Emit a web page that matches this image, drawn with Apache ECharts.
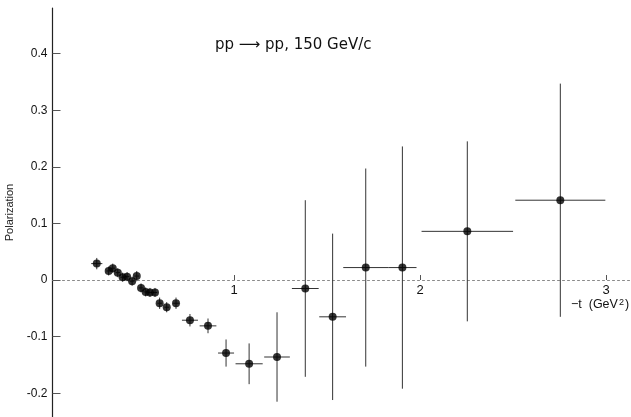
<!DOCTYPE html>
<html>
<head>
<meta charset="utf-8">
<script src="https://cdn.jsdelivr.net/npm/echarts@6/dist/echarts.min.js"></script>
<style>
  html, body { margin: 0; padding: 0; background: #fff; }
  #chart { width: 631px; height: 417px; }
</style>
</head>
<body>
<div id="chart"></div>
<script>
// pp -> pp elastic scattering at 150 GeV/c: polarization vs -t
const minusT = [0.262, 0.326, 0.348, 0.375, 0.401, 0.425, 0.452, 0.477, 0.500, 0.525,
                0.548, 0.575, 0.600, 0.638, 0.688, 0.763, 0.860, 0.957, 1.081, 1.231,
                1.383, 1.530, 1.708, 1.905, 2.254, 2.754];
const polarization = [0.029, 0.016, 0.021, 0.013, 0.005, 0.006, -0.002, 0.007, -0.014, -0.021,
                      -0.022, -0.022, -0.041, -0.048, -0.041, -0.071, -0.081, -0.129, -0.148, -0.136,
                      -0.015, -0.065, 0.022, 0.022, 0.086, 0.141];
const polErr = [0.010, 0.008, 0.008, 0.008, 0.008, 0.008, 0.008, 0.009, 0.008, 0.008,
                0.008, 0.008, 0.010, 0.009, 0.010, 0.011, 0.013, 0.024, 0.036, 0.079,
                0.156, 0.147, 0.175, 0.214, 0.159, 0.206];
const tErr = [0.030, 0.012, 0.012, 0.012, 0.012, 0.012, 0.012, 0.012, 0.012, 0.012,
              0.012, 0.012, 0.012, 0.012, 0.015, 0.043, 0.045, 0.043, 0.073, 0.069,
              0.072, 0.072, 0.121, 0.076, 0.246, 0.242];

const yTicks = [-0.2, -0.1, 0, 0.1, 0.2, 0.3, 0.4];
const xTicks = [1, 2, 3];

const Y_MIN = -0.242, Y_MAX = 0.4806;
const GRID = { left: 52.5, right: 0, top: 8, bottom: 0 };
const CHART_H = 417;

const points = minusT.map((t, i) => [t, polarization[i]]);
const bars = minusT.map((t, i) => [t, polarization[i], tErr[i], polErr[i]]);

// the t axis sits on P = 0; shift it up from the grid bottom by that distance
const plotH = CHART_H - GRID.top - GRID.bottom;
const zeroShift = plotH * (0 - Y_MIN) / (Y_MAX - Y_MIN);

const chart = echarts.init(document.getElementById('chart'), null, { renderer: 'canvas' });

chart.setOption({
  animation: false,
  backgroundColor: '#fff',
  grid: Object.assign({ containLabel: false, outerBoundsMode: 'none' }, GRID),
  xAxis: {
    type: 'value',
    min: 0.024,
    max: 3.134,
    position: 'bottom',
    offset: -zeroShift,
    axisLine: { onZero: false, lineStyle: { color: '#8a8a8a', type: [2, 3], width: 1 } },
    axisTick: { inside: true, length: 5, customValues: xTicks, lineStyle: { color: '#555' } },
    axisLabel: {
      customValues: xTicks, margin: 4, color: '#111',
      fontFamily: 'Liberation Sans', fontSize: 13
    },
    splitLine: { show: false }
  },
  yAxis: {
    type: 'value',
    min: Y_MIN,
    max: Y_MAX,
    name: 'Polarization',
    nameLocation: 'middle',
    nameRotate: 90,
    nameGap: 34,
    nameTextStyle: { fontFamily: 'Liberation Sans', fontSize: 11, color: '#222' },
    axisLine: { show: true, lineStyle: { color: '#222', width: 1.2 } },
    axisTick: { inside: true, length: 8, customValues: yTicks, lineStyle: { color: '#555' } },
    axisLabel: {
      customValues: yTicks, margin: 5, color: '#111',
      fontFamily: 'Liberation Sans', fontSize: 12,
      formatter: v => (Math.abs(v) < 1e-9 ? '0' : v.toFixed(1))
    },
    splitLine: { show: false }
  },
  graphic: [
    {
      type: 'text', left: 215, top: 38,
      style: { text: 'pp \u27F6 pp, 150 GeV/c', font: '15px "DejaVu Sans"', fill: '#111' }
    },
    {
      type: 'text', left: 571, top: 298,
      style: {
        text: '\u2212t  (GeV{sup|2})',
        font: '12.5px "Liberation Sans"', fill: '#111',
        rich: { sup: { fontSize: 9, fontFamily: 'Liberation Sans', verticalAlign: 'top', padding: [0, 1, 5, 1] } }
      }
    }
  ],
  series: [
    {
      type: 'custom',
      data: bars,
      z: 2,
      renderItem: (params, api) => {
        const x = api.value(0), y = api.value(1), dx = api.value(2), dy = api.value(3);
        const left = api.coord([x - dx, y]);
        const right = api.coord([x + dx, y]);
        const top = api.coord([x, y + dy]);
        const bottom = api.coord([x, y - dy]);
        const style = { stroke: '#333', lineWidth: 1 };
        return {
          type: 'group',
          children: [
            { type: 'line', shape: { x1: left[0], y1: left[1], x2: right[0], y2: right[1] }, style },
            { type: 'line', shape: { x1: top[0], y1: top[1], x2: bottom[0], y2: bottom[1] }, style }
          ]
        };
      }
    },
    {
      type: 'scatter',
      data: points,
      symbol: 'circle',
      symbolSize: 8,
      z: 3,
      itemStyle: { color: '#000' }
    }
  ]
});
</script>
</body>
</html>
